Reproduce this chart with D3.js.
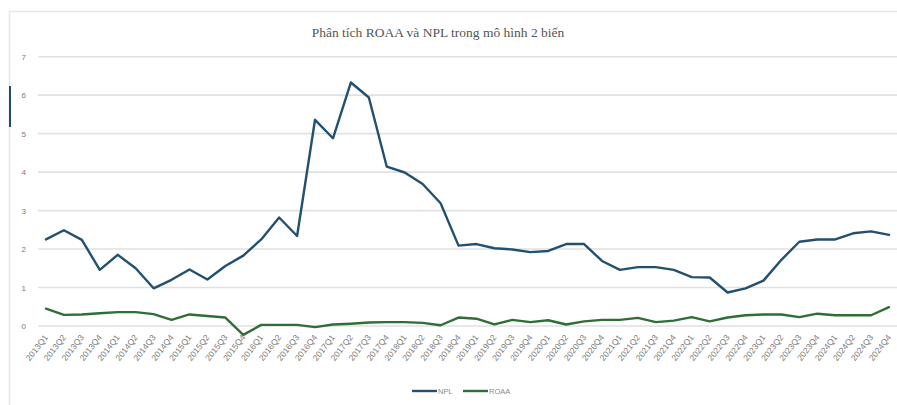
<!DOCTYPE html>
<html>
<head>
<meta charset="utf-8">
<script src="https://cdn.jsdelivr.net/npm/d3@7"></script>
<style>
  html, body { margin: 0; padding: 0; background: #fff; }
  svg { display: block; }
</style>
</head>
<body>
<svg id="chart" width="897" height="405"></svg>
<script>
// Quarterly NPL and ROAA ratios (%), 2013Q1–2024Q4
const quarters = [];
for (let y = 2013; y <= 2024; y++) for (let q = 1; q <= 4; q++) quarters.push(y + "Q" + q);

const npl = [
  2.25, 2.49, 2.24, 1.46, 1.85, 1.50, 0.98, 1.20, 1.47, 1.21, 1.56, 1.83,
  2.25, 2.82, 2.34, 5.36, 4.88, 6.33, 5.94, 4.14, 3.99, 3.69, 3.19, 2.09,
  2.13, 2.02, 1.99, 1.92, 1.95, 2.13, 2.13, 1.69, 1.46, 1.53, 1.53, 1.46,
  1.27, 1.26, 0.87, 0.98, 1.18, 1.72, 2.19, 2.25, 2.25, 2.41, 2.46, 2.37
];
const roaa = [
  0.45, 0.29, 0.30, 0.33, 0.36, 0.36, 0.31, 0.16, 0.30, 0.26, 0.22, -0.23,
  0.03, 0.03, 0.03, -0.03, 0.04, 0.06, 0.09, 0.10, 0.10, 0.08, 0.02, 0.22,
  0.19, 0.04, 0.16, 0.10, 0.15, 0.04, 0.12, 0.16, 0.16, 0.21, 0.10, 0.14,
  0.23, 0.12, 0.22, 0.28, 0.30, 0.30, 0.23, 0.32, 0.28, 0.28, 0.28, 0.49
];
const yTicks = [0, 1, 2, 3, 4, 5, 6, 7];

const seriesNames = ["NPL", "ROAA"];
const seriesColors = ["#23506f", "#2f6e36"];
const series = [npl, roaa];

const svg = d3.select("#chart");

// outer chart frame
svg.append("rect")
  .attr("x", 9.5).attr("y", 11.5)
  .attr("width", 900).attr("height", 400)
  .attr("fill", "#fff").attr("stroke", "#e6e6e6").attr("stroke-width", 1.5);

// small dark edge marker on the frame
svg.append("line")
  .attr("x1", 10).attr("x2", 10).attr("y1", 86).attr("y2", 127)
  .attr("stroke", "#1f4f5a").attr("stroke-width", 2);

const plot = { left: 37, right: 898, top: 56.7, bottom: 326 };

const x = d3.scalePoint()
  .domain(quarters)
  .range([plot.left, plot.right])
  .padding(0.5);

const y = d3.scaleLinear()
  .domain([0, 7])
  .range([plot.bottom, plot.top]);

// horizontal gridlines
svg.append("g")
  .selectAll("line")
  .data(yTicks)
  .join("line")
  .attr("x1", plot.left + 1).attr("x2", plot.right)
  .attr("y1", d => y(d)).attr("y2", d => y(d))
  .attr("stroke", "#e1e1e1").attr("stroke-width", 1.6);

// y axis labels
const yAxis = d3.axisLeft(y).tickValues(yTicks).tickSize(0).tickPadding(0).tickFormat(d3.format("d"));
svg.append("g")
  .attr("transform", `translate(${plot.left - 11},0)`)
  .call(yAxis)
  .call(g => g.select(".domain").remove())
  .call(g => g.selectAll("text")
    .attr("fill", "#7a7a7a")
    .style("font-family", "Liberation Sans, Arial, sans-serif")
    .style("font-size", "8px"));

// x axis labels, rotated
const xAxis = d3.axisBottom(x).tickSize(0).tickPadding(0);
svg.append("g")
  .attr("transform", `translate(0,${plot.bottom + 10})`)
  .call(xAxis)
  .call(g => g.select(".domain").remove())
  .call(g => g.selectAll("text")
    .attr("fill", "#7d7d7d")
    .attr("text-anchor", "end")
    .attr("y", 0)
    .attr("dy", "0.3em")
    .attr("transform", "rotate(-52)")
    .style("font-family", "Liberation Sans, Arial, sans-serif")
    .style("font-size", "8.5px"));

// lines
const line = d3.line()
  .x((d, i) => x(quarters[i]))
  .y(d => y(d));

svg.append("g")
  .selectAll("path")
  .data(series)
  .join("path")
  .attr("d", d => line(d))
  .attr("fill", "none")
  .attr("stroke", (d, i) => seriesColors[i])
  .attr("stroke-width", 2.4)
  .attr("stroke-linejoin", "round")
  .attr("stroke-linecap", "round");

// title
svg.append("text")
  .attr("x", 438).attr("y", 37)
  .attr("text-anchor", "middle")
  .attr("fill", "#555")
  .style("font-family", "Liberation Serif, Times New Roman, serif")
  .style("font-size", "13.5px")
  .text("Phân tích ROAA và NPL trong mô hình 2 biến");

// legend
const legendX = [412, 463];
const legend = svg.append("g");
seriesNames.forEach((name, i) => {
  legend.append("line")
    .attr("x1", legendX[i]).attr("x2", legendX[i] + 25)
    .attr("y1", 391).attr("y2", 391)
    .attr("stroke", seriesColors[i]).attr("stroke-width", 2.4);
  legend.append("text")
    .attr("x", legendX[i] + 26).attr("y", 391)
    .attr("dy", "0.35em")
    .attr("fill", "#8a8a8a")
    .style("font-family", "Liberation Sans, Arial, sans-serif")
    .style("font-size", "7.5px")
    .text(name);
});
</script>
</body>
</html>
